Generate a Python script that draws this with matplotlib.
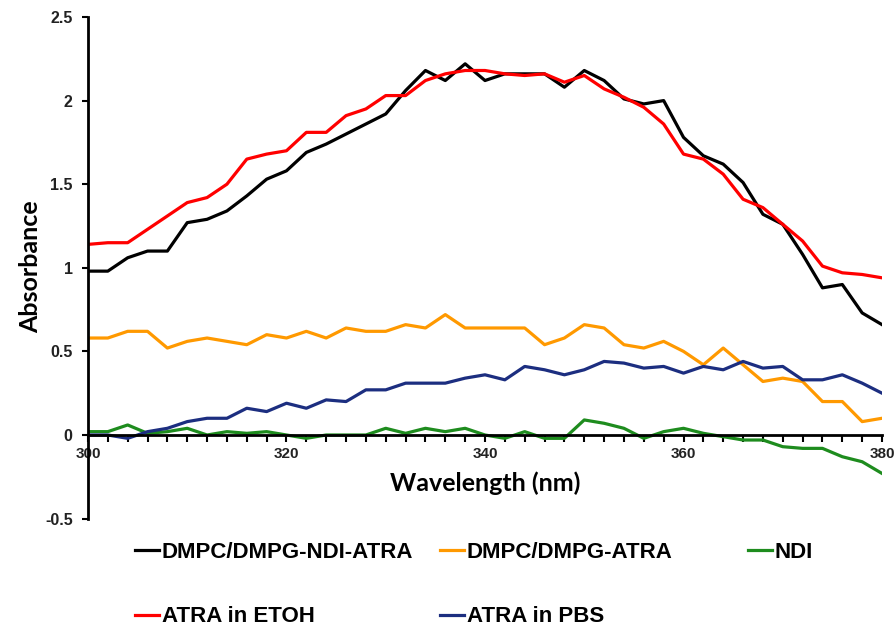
import numpy as np
import matplotlib.pyplot as plt
from matplotlib.ticker import FormatStrFormatter

plt.rcParams['font.family'] = 'Liberation Sans'
plt.rcParams['font.weight'] = 'bold'

wavelength = np.arange(300, 381, 2)

ndi_atra = [0.98, 0.98, 1.06, 1.10, 1.10, 1.27, 1.29, 1.34, 1.43, 1.53, 1.58,
            1.69, 1.74, 1.80, 1.86, 1.92, 2.06, 2.18, 2.12, 2.22, 2.12, 2.16,
            2.16, 2.16, 2.08, 2.18, 2.12, 2.01, 1.98, 2.00, 1.78, 1.67, 1.62,
            1.51, 1.32, 1.26, 1.08, 0.88, 0.90, 0.73, 0.66]
atra_etoh = [1.14, 1.15, 1.15, 1.23, 1.31, 1.39, 1.42, 1.50, 1.65, 1.68, 1.70,
             1.81, 1.81, 1.91, 1.95, 2.03, 2.03, 2.12, 2.16, 2.18, 2.18, 2.16,
             2.15, 2.16, 2.11, 2.15, 2.07, 2.02, 1.96, 1.86, 1.68, 1.65, 1.56,
             1.41, 1.36, 1.26, 1.16, 1.01, 0.97, 0.96, 0.94]
lipo_atra = [0.58, 0.58, 0.62, 0.62, 0.52, 0.56, 0.58, 0.56, 0.54, 0.60, 0.58,
             0.62, 0.58, 0.64, 0.62, 0.62, 0.66, 0.64, 0.72, 0.64, 0.64, 0.64,
             0.64, 0.54, 0.58, 0.66, 0.64, 0.54, 0.52, 0.56, 0.50, 0.42, 0.52,
             0.42, 0.32, 0.34, 0.32, 0.20, 0.20, 0.08, 0.10]
atra_pbs = [0.00, 0.00, -0.02, 0.02, 0.04, 0.08, 0.10, 0.10, 0.16, 0.14, 0.19,
            0.16, 0.21, 0.20, 0.27, 0.27, 0.31, 0.31, 0.31, 0.34, 0.36, 0.33,
            0.41, 0.39, 0.36, 0.39, 0.44, 0.43, 0.40, 0.41, 0.37, 0.41, 0.39,
            0.44, 0.40, 0.41, 0.33, 0.33, 0.36, 0.31, 0.25]
ndi = [0.02, 0.02, 0.06, 0.01, 0.02, 0.04, 0.00, 0.02, 0.01, 0.02, 0.00,
       -0.02, 0.00, 0.00, 0.00, 0.04, 0.01, 0.04, 0.02, 0.04, 0.00, -0.02,
       0.02, -0.02, -0.02, 0.09, 0.07, 0.04, -0.02, 0.02, 0.04, 0.01, -0.01,
       -0.03, -0.03, -0.07, -0.08, -0.08, -0.13, -0.16, -0.23]

fig = plt.figure(figsize=(8.95, 6.27), dpi=100)
ax = fig.add_axes([0.0983, 0.1729, 0.8872, 0.8])

lw = 2.3
l_black, = ax.plot(wavelength, ndi_atra, color='black', lw=lw, label='DMPC/DMPG-NDI-ATRA')
l_orange, = ax.plot(wavelength, lipo_atra, color='#FF9900', lw=lw, label='DMPC/DMPG-ATRA')
l_green, = ax.plot(wavelength, ndi, color='#1E8C1E', lw=lw, label='NDI')
l_red, = ax.plot(wavelength, atra_etoh, color='#FF0000', lw=lw, label='ATRA in ETOH')
l_blue, = ax.plot(wavelength, atra_pbs, color='#1C2E80', lw=lw, label='ATRA in PBS')

ax.set_xlim(300, 380)
ax.set_ylim(-0.5, 2.5)

ax.spines['top'].set_visible(False)
ax.spines['right'].set_visible(False)
ax.spines['bottom'].set_position(('data', 0))
ax.spines['left'].set_linewidth(2)
ax.spines['bottom'].set_linewidth(2)

ax.set_xticks(np.arange(300, 381, 20))
ax.set_xticks(np.arange(300, 381, 2), minor=True)
ax.set_yticks(np.arange(-0.5, 2.51, 0.5))
ax.yaxis.set_major_formatter(FormatStrFormatter('%g'))
ax.tick_params(axis='x', which='both', direction='out', length=5, width=1.5, pad=4,
               labelsize=11, labelcolor='#222222')
ax.tick_params(axis='y', direction='out', length=4, width=1.5, pad=7,
               labelsize=11.5, labelcolor='#222222')

ax.text(340, -0.29, 'Wavelength (nm)', ha='center', va='center',
        fontsize=18, fontweight='bold', family='Lato')
fig.text(0.034, 0.575, 'Absorbance', rotation=90, ha='center', va='center',
         fontsize=18, fontweight='bold', family='Lato')

leg_font = {'family': 'Liberation Sans', 'weight': 'bold', 'size': 16}
top_y = 1 - 542 / 627
for handles, xpos in [([l_black, l_red], 135), ([l_orange, l_blue], 440), ([l_green], 748)]:
    fig.legend(handles=handles, loc='upper left', bbox_to_anchor=(xpos / 895, top_y),
               frameon=False, prop=leg_font, handlelength=1.1, handletextpad=0.1,
               labelspacing=1.95, borderpad=0, borderaxespad=0)

fig.savefig('out.png', dpi=100)
